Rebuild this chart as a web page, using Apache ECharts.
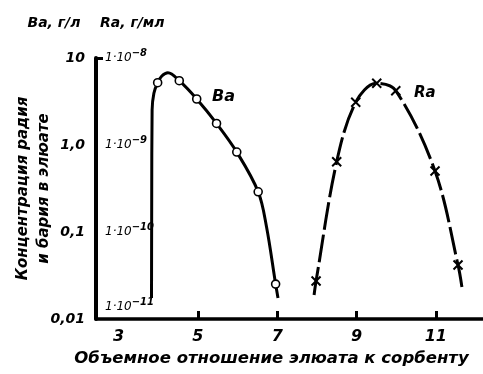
<!DOCTYPE html>
<html><head><meta charset="utf-8">
<script src="https://cdn.jsdelivr.net/npm/echarts@6/dist/echarts.min.js"></script>
<style>html,body{margin:0;padding:0;background:#fff}#c{width:483px;height:374px}</style>
</head><body><div id="c"></div>
<script>
// ---- data ----
const xTickLabels = [3, 5, 7, 9, 11];
const baTickLabels = {10: '10', 1: '1,0', 0.1: '0,1', 0.01: '0,01'};
// Ba (g/l): measured points (circles)
const baPointX = [3.985, 4.53, 4.97, 5.47, 5.98, 6.52, 6.96];
const baPointY = [5.2, 5.48, 3.38, 1.77, 0.83, 0.29, 0.0252];
// Ba curve
const baCurveX = [3.83, 3.835, 3.845, 3.89, 3.985, 4.09, 4.245, 4.53, 4.97, 5.47, 5.98, 6.52, 6.73, 6.96, 7.02];
const baCurveY = [0.0174, 0.233, 2.52, 3.93, 5.2, 6.21, 6.78, 5.48, 3.38, 1.77, 0.83, 0.29, 0.115, 0.0252, 0.0174];
// Ra (g/ml): measured points (crosses)
const raPointX = [7.98, 8.50, 8.98, 9.51, 9.99, 10.98, 11.56];
const raPointY = [2.73e-11, 6.43e-10, 3.10e-9, 5.12e-9, 4.21e-9, 5.02e-10, 4.18e-11];
// Ra curve
const raCurveX = [7.93, 7.98, 8.50, 8.98, 9.51, 9.99, 10.98, 11.56, 11.67];
const raCurveY = [1.89e-11, 2.73e-11, 6.43e-10, 3.10e-9, 5.12e-9, 4.21e-9, 5.02e-10, 4.18e-11, 2.15e-11];

const FONT = '"DejaVu Sans", sans-serif';
const zip = (a, b) => a.map((v, i) => [v, b[i]]);

const chart = echarts.init(document.getElementById('c'), null, {renderer: 'canvas'});
chart.setOption({
  animation: false,
  backgroundColor: '#fff',
  grid: {left: 96, right: 0, top: 58, bottom: 55, containLabel: false},
  xAxis: {
    type: 'value', min: 2.43, max: 12.19,
    name: 'Объемное отношение элюата к сорбенту',
    nameLocation: 'middle', nameGap: 28,
    nameTextStyle: {fontFamily: FONT, fontStyle: 'italic', fontWeight: 'bold', fontSize: 16.5, color: '#000', padding: [0, 36, 0, 0]},
    axisLine: {lineStyle: {color: '#000', width: 3.5}},
    axisTick: {inside: true, length: 8, customValues: [5, 7, 9, 11], lineStyle: {color: '#000', width: 3}},
    axisLabel: {customValues: xTickLabels, margin: 10, fontFamily: FONT, fontStyle: 'italic', fontWeight: 'bold', fontSize: 16, color: '#000'},
    splitLine: {show: false}
  },
  yAxis: [{
    type: 'log', min: 0.01, max: 10, logBase: 10,
    name: 'Ba, г/л    Ra, г/мл', nameLocation: 'end', nameGap: 28,
    nameTextStyle: {fontFamily: FONT, fontStyle: 'italic', fontWeight: 'bold', fontSize: 14, color: '#000', align: 'center', padding: [0, 0, 0, 0]},
    axisLine: {show: true, lineStyle: {color: '#000', width: 4}},
    axisTick: {show: false},
    axisLabel: {margin: 11, fontFamily: FONT, fontStyle: 'italic', fontWeight: 'bold', fontSize: 14, color: '#000',
      formatter: v => baTickLabels[+v.toPrecision(3)] ?? ''},
    splitLine: {show: false}
  }, {
    type: 'log', min: 1e-11, max: 1e-8, logBase: 10, position: 'left', offset: 0,
    name: 'Концентрация радия\nи бария в элюате', nameLocation: 'middle', nameGap: 41,
    nameTextStyle: {fontFamily: FONT, fontStyle: 'italic', fontWeight: 'bold', fontSize: 15, color: '#000', lineHeight: 21},
    axisLine: {show: false}, axisTick: {show: false},
    axisLabel: {inside: true, margin: 9, color: '#000',
      formatter: v => {
        const e = Math.round(Math.log10(v));
        const t = (e < 0 ? '−' : '') + Math.abs(e);
        return e === -11 ? '{b2|1·10}{s2|' + t + '}' : '{b|1·10}{s|' + t + '}';
      },
      rich: {
        b: {fontFamily: FONT, fontStyle: 'italic', fontSize: 12, color: '#000'},
        s: {fontFamily: FONT, fontStyle: 'italic', fontWeight: 'bold', fontSize: 10, color: '#000', padding: [0, 0, 10, 0]},
        b2: {fontFamily: FONT, fontStyle: 'italic', fontSize: 12, color: '#000', padding: [0, 0, 24, 0]},
        s2: {fontFamily: FONT, fontStyle: 'italic', fontWeight: 'bold', fontSize: 10, color: '#000', padding: [0, 0, 34, 0]}
      }},
    splitLine: {show: false}
  }, {
    // helper axis carrying only the tick at the top of the scale
    type: 'value', min: 0, max: 1, position: 'left', offset: 0,
    axisLine: {show: false}, axisLabel: {show: false}, splitLine: {show: false},
    axisTick: {show: true, inside: true, length: 7, customValues: [1], lineStyle: {color: '#000', width: 3}}
  }],
  graphic: [
    {type: 'text', left: 212, top: 89, style: {text: 'Ba', font: 'italic bold 16px "DejaVu Sans"', fill: '#000'}},
    {type: 'text', left: 414, top: 86, style: {text: 'Ra', font: 'italic bold 15px "DejaVu Sans"', fill: '#000'}}
  ],
  series: [
    {type: 'line', name: 'Ba curve', yAxisIndex: 0, data: zip(baCurveX, baCurveY), smooth: 0.35,
      showSymbol: false, symbol: 'none', lineStyle: {color: '#000', width: 3}, z: 2},
    {type: 'scatter', name: 'Ba', yAxisIndex: 0, data: zip(baPointX, baPointY), symbol: 'circle', symbolSize: 8,
      itemStyle: {color: '#fff', borderColor: '#000', borderWidth: 1.6, opacity: 1}, z: 3},
    {type: 'line', name: 'Ra curve', yAxisIndex: 1, data: zip(raCurveX, raCurveY), smooth: 0.35,
      showSymbol: false, symbol: 'none', lineStyle: {color: '#000', width: 3, type: [28, 5]}, z: 2},
    {type: 'scatter', name: 'Ra', yAxisIndex: 1, data: zip(raPointX, raPointY), symbol: 'path://M0,0L10,10M10,0L0,10', symbolSize: 9,
      itemStyle: {color: '#000', borderColor: '#000', borderWidth: 2, opacity: 1}, z: 3}
  ]
});
</script></body></html>
